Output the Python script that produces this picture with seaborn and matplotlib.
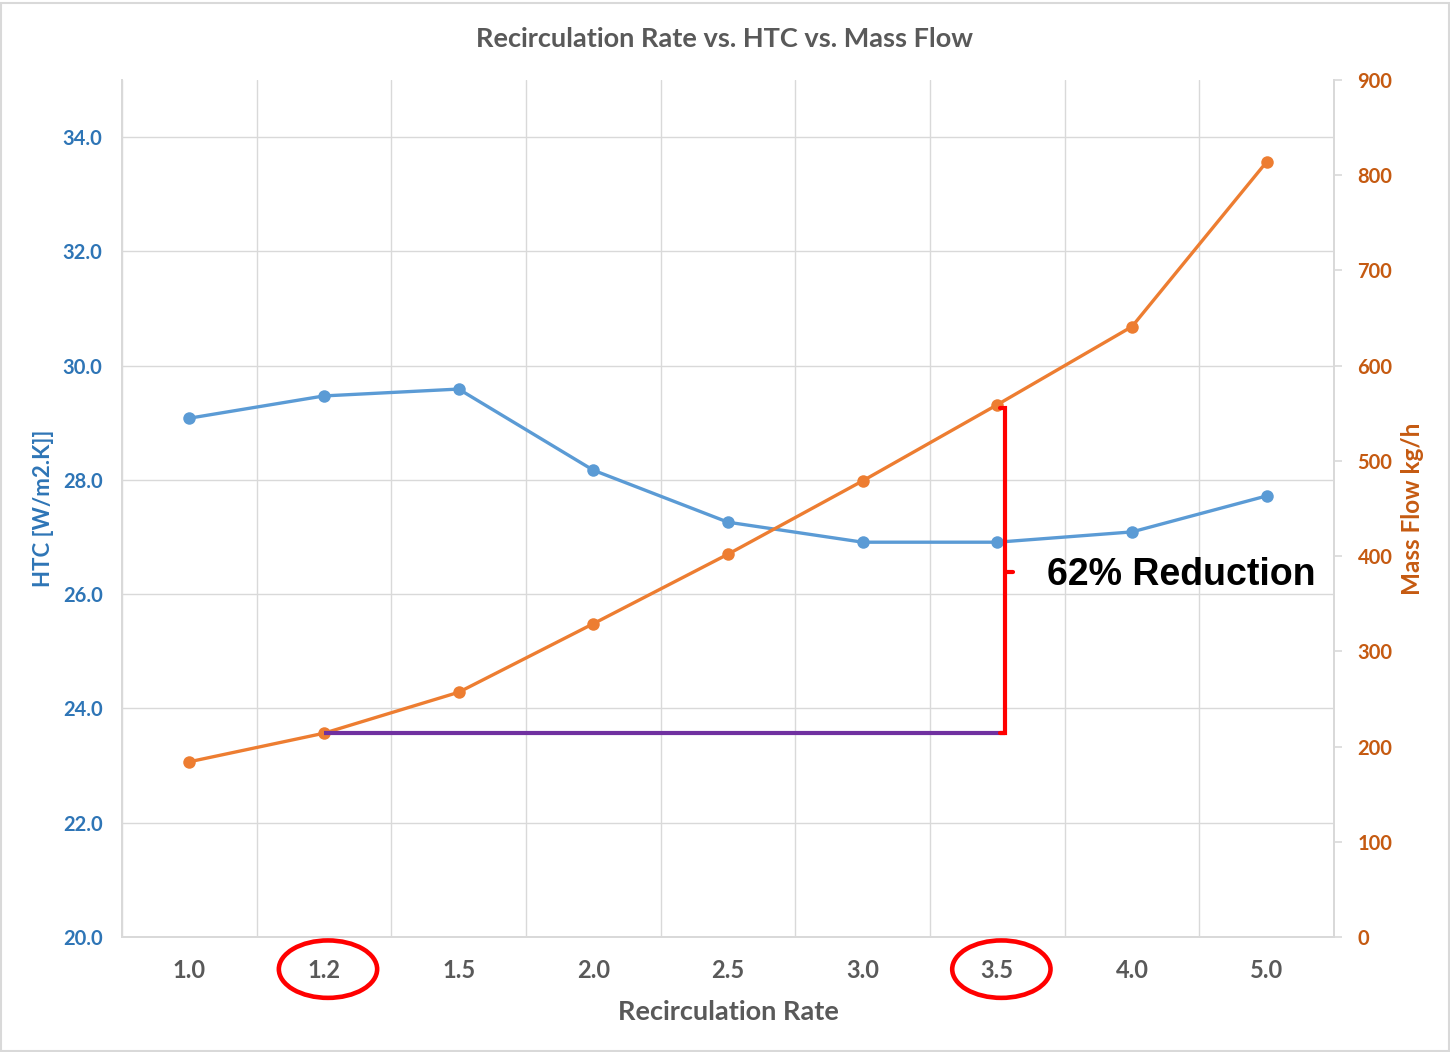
import numpy as np
import pandas as pd
import matplotlib
matplotlib.use("Agg")
import matplotlib.pyplot as plt
import matplotlib.transforms as mtransforms
from matplotlib.patches import Ellipse, Rectangle
import seaborn as sns

# ---- data ----
recirc_rate = ["1.0", "1.2", "1.5", "2.0", "2.5", "3.0", "3.5", "4.0", "5.0"]
htc = [29.08, 29.47, 29.59, 28.17, 27.26, 26.91, 26.91, 27.09, 27.72]
mass_flow = [184, 214, 257, 329, 402, 479, 559, 641, 814]
htc_ticks = [20.0, 22.0, 24.0, 26.0, 28.0, 30.0, 32.0, 34.0]
flow_ticks = [0, 100, 200, 300, 400, 500, 600, 700, 800, 900]
low_idx, high_idx = 1, 6   # compared recirculation rates (1.2 vs 3.5)

sns.set_theme(style="white")
plt.rcParams["font.family"] = ["Lato", "DejaVu Sans"]

BLUE = "#5B9BD5"
ORANGE = "#ED7D31"
BLUE_TXT = "#2E75B6"
ORANGE_TXT = "#C55A11"
GRAY_TXT = "#595959"
GRID = "#D9D9D9"

pos = np.arange(len(recirc_rate))
df = pd.DataFrame({"pos": pos, "rate": recirc_rate, "htc": htc, "flow": mass_flow})

fig = plt.figure(figsize=(14.5, 10.52), dpi=100)
ax = fig.add_axes([0.0841, 0.1093, 0.8359, 0.8147])
ax2 = ax.twinx()

# HTC series (left axis)
sns.lineplot(data=df, x="pos", y="htc", ax=ax, color=BLUE, lw=2.4,
             marker="o", markersize=9, markeredgewidth=0, zorder=3)
# Mass flow series (right axis)
sns.lineplot(data=df, x="pos", y="flow", ax=ax2, color=ORANGE, lw=2.4,
             marker="o", markersize=9, markeredgewidth=0, zorder=3)

ax.set_xlim(-0.5, len(recirc_rate) - 0.5)
ax.set_ylim(20, 35)
ax2.set_ylim(0, 900)

ax.set_xticks(pos)
ax.set_xticklabels(recirc_rate)
ax.set_xticks(np.arange(len(recirc_rate) + 1) - 0.5, minor=True)
ax.set_yticks(htc_ticks)
ax.set_yticklabels([f"{t:.1f}" for t in htc_ticks])
ax2.set_yticks(flow_ticks)

# grid: horizontal at HTC ticks, vertical between categories
ax.grid(False)
ax2.grid(False)
for t in htc_ticks:
    ax.axhline(t, color=GRID, lw=1, zorder=0)
ax.grid(which="minor", axis="x", color=GRID, lw=1)
ax.set_axisbelow(True)

for a in (ax, ax2):
    a.spines["top"].set_visible(False)
    for side in ("left", "right", "bottom"):
        a.spines[side].set_color(GRID)
        a.spines[side].set_linewidth(1.3)

ax.tick_params(axis="x", which="both", length=0, pad=16, labelsize=17, labelcolor=GRAY_TXT)
ax.tick_params(axis="y", length=0, pad=14, labelsize=14.5, labelcolor=BLUE_TXT)
ax2.tick_params(axis="y", length=6, width=1.2, color=GRID, pad=11, labelsize=14.5,
                labelcolor=ORANGE_TXT, direction="out", right=True)
for lab in ax.get_xticklabels() + ax.get_yticklabels() + ax2.get_yticklabels():
    lab.set_fontweight("bold")

ax.set_xlabel("Recirculation Rate", fontsize=19.5, fontweight="bold", color=GRAY_TXT, labelpad=13)
ax.set_ylabel("HTC [W/m2.K]]", fontsize=16, fontweight="bold", color=BLUE_TXT, labelpad=6)
ax2.set_ylabel("Mass Flow kg/h", fontsize=17.5, fontweight="bold", color=ORANGE_TXT, labelpad=6)

fig.suptitle("Recirculation Rate vs. HTC vs. Mass Flow", x=0.5, y=0.974,
             fontsize=19.5, fontweight="bold", color=GRAY_TXT)

# reduction annotation: baseline at the 1.2 flow, bracket up to the 3.5 flow
lo = mass_flow[low_idx]
hi = mass_flow[high_idx]
bx = high_idx + 0.06
ax2.plot([low_idx, bx], [lo, lo], color="#7030A0", lw=3, solid_capstyle="butt", zorder=4)
ax2.plot([bx - 0.04, bx, bx, bx - 0.04], [hi - 4, hi - 4, lo, lo],
         color="#FF0000", lw=3, solid_joinstyle="miter", zorder=5)
mid = (hi + lo) / 2
ax2.plot([bx, bx + 0.06], [mid - 3, mid - 3], color="#FF0000", lw=3, zorder=5)
ax2.text(high_idx + 0.37, mid - 6, "62% Reduction", ha="left", va="center",
         fontsize=27, fontweight="bold", color="black",
         family=["Liberation Sans", "DejaVu Sans"], zorder=6)

# highlight the two compared rates on the category axis
tr = mtransforms.blended_transform_factory(ax.transData, ax.transAxes)
for i in (low_idx, high_idx):
    ax.add_patch(Ellipse((i + 0.03, -0.0375), width=0.73, height=0.067,
                         transform=tr, fill=False, edgecolor="#FF0000", lw=3.3,
                         clip_on=False, zorder=6))

# thin frame around the chart area
fig.patches.append(Rectangle((0.001, 0.001), 0.998, 0.996, transform=fig.transFigure,
                             fill=False, edgecolor="#D9D9D9", lw=1.5))

fig.savefig("out.png", dpi=100)
